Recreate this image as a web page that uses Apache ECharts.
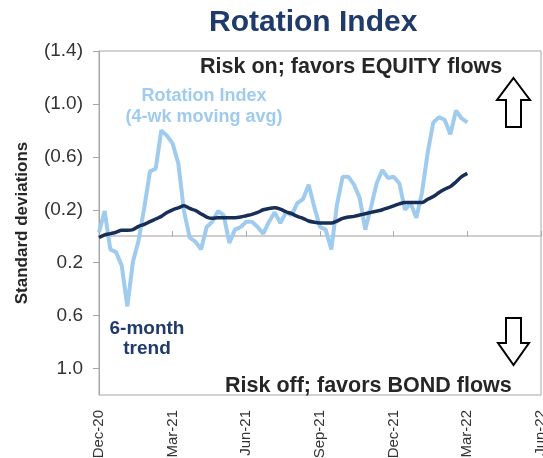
<!DOCTYPE html>
<html>
<head>
<meta charset="utf-8">
<script src="https://cdn.jsdelivr.net/npm/echarts@6/dist/echarts.min.js"></script>
<style>
  html, body { margin: 0; padding: 0; background: #fff; }
  #chart { width: 543px; height: 458px; }
</style>
</head>
<body>
<div id="chart"></div>
<script>
// tick labels (one per quarter, 13 weeks apart)
let xTicks = ['Dec-20', 'Mar-21', 'Jun-21', 'Sep-21', 'Dec-21', 'Mar-22', 'Jun-22'];

// Rotation Index, 4-wk moving avg (weekly, negative = risk on)
let rotation = [
  -0.03, -0.19, 0.10, 0.12, 0.22, 0.53, 0.19, 0.03, -0.22, -0.49,
  -0.51, -0.80, -0.76, -0.70, -0.55, -0.19, 0.01, 0.04, 0.10, -0.07,
  -0.11, -0.19, -0.16, 0.05, -0.05, -0.07, -0.11, -0.11, -0.07, -0.02,
  -0.11, -0.18, -0.10, -0.18, -0.16, -0.25, -0.28, -0.39, -0.22, -0.07,
  -0.05, 0.10, -0.24, -0.45, -0.45, -0.39, -0.29, -0.05, -0.22, -0.40,
  -0.50, -0.44, -0.45, -0.40, -0.20, -0.25, -0.14, -0.33, -0.63, -0.86,
  -0.90, -0.88, -0.77, -0.95, -0.89, -0.86
];

// 6-month trend (weekly)
let trend = [
  0.01, -0.01, -0.02, -0.03, -0.045, -0.045, -0.05, -0.075, -0.09, -0.11,
  -0.13, -0.15, -0.18, -0.20, -0.215, -0.23, -0.21, -0.195, -0.17, -0.145,
  -0.135, -0.14, -0.14, -0.14, -0.14, -0.145, -0.155, -0.165, -0.18, -0.20,
  -0.21, -0.215, -0.205, -0.185, -0.17, -0.15, -0.135, -0.115, -0.105, -0.10,
  -0.10, -0.10, -0.115, -0.135, -0.145, -0.15, -0.16, -0.17, -0.18, -0.19,
  -0.20, -0.215, -0.23, -0.245, -0.255, -0.255, -0.255, -0.255, -0.28, -0.30,
  -0.33, -0.355, -0.375, -0.41, -0.45, -0.475
];

let font = "'Liberation Sans', Arial, sans-serif";
let lightBlue = '#9fcbef';
let navy = '#172f58';

let chart = echarts.init(document.getElementById('chart'));

let option = {
  animation: false,
  textStyle: { fontFamily: font },
  title: {
    text: 'Rotation Index',
    left: 204,
    top: 3,
    textStyle: { fontSize: 30, fontWeight: 'bold', color: '#1f3b6b', fontFamily: font }
  },
  grid: {
    left: 99,
    right: 2,
    top: 51,
    bottom: 63,
    outerBoundsMode: 'none',
    containLabel: false,
    show: true,
    borderColor: '#a6a6a6',
    borderWidth: 1
  },
  xAxis: [
    {
      // axis drawn on the zero line
      type: 'value',
      min: 0,
      max: 78,
      interval: 13,
      position: 'bottom',
      axisLine: { show: true, onZero: true, lineStyle: { color: '#bfbfbf', width: 1.5 } },
      axisTick: { show: true, inside: true, length: 5, lineStyle: { color: '#a6a6a6' } },
      axisLabel: { show: false },
      splitLine: { show: false }
    },
    {
      // labels along the bottom
      type: 'value',
      min: 0,
      max: 78,
      interval: 13,
      position: 'bottom',
      axisLine: { show: false, onZero: false },
      axisTick: { show: false },
      splitLine: { show: false },
      axisLabel: {
        rotate: 90,
        margin: 15,
        fontSize: 15,
        color: '#333',
        fontFamily: font,
        formatter: function (v) { return xTicks[Math.round(v / 13)]; }
      }
    }
  ],
  yAxis: {
    type: 'value',
    inverse: true,
    min: -1.4,
    max: 1.2,
    interval: 0.4,
    name: 'Standard deviations',
    nameLocation: 'middle',
    nameGap: 68,
    nameTextStyle: { fontSize: 17, fontWeight: 'bold', color: '#262626', fontFamily: font },
    axisLine: { show: true, lineStyle: { color: '#a6a6a6' } },
    axisTick: { show: true, length: 6, lineStyle: { color: '#a6a6a6' } },
    splitLine: { show: false },
    axisLabel: {
      margin: 16,
      fontSize: 19,
      color: '#333',
      fontFamily: font,
      showMaxLabel: false,
      formatter: function (v) {
        let s = Math.abs(v).toFixed(1);
        return v < 0 ? '(' + s + ')' : s;
      }
    }
  },
  series: [
    {
      name: 'Rotation Index',
      type: 'line',
      xAxisIndex: 0,
      data: rotation.map(function (v, i) { return [i, v]; }),
      symbol: 'none',
      lineStyle: { color: lightBlue, width: 4 },
      z: 2
    },
    {
      name: '6-month trend',
      type: 'line',
      xAxisIndex: 0,
      data: trend.map(function (v, i) { return [i, v]; }),
      symbol: 'none',
      smooth: 0.3,
      lineStyle: { color: navy, width: 3.5 },
      z: 3
    }
  ],
  graphic: [
    {
      type: 'text', left: 200, top: 56,
      style: { text: 'Risk on; favors EQUITY flows', fontSize: 21.5, fontWeight: 'bold', fill: '#262626', fontFamily: font }
    },
    {
      type: 'text', left: 225, top: 375,
      style: { text: 'Risk off; favors BOND flows', fontSize: 21.5, fontWeight: 'bold', fill: '#262626', fontFamily: font }
    },
    {
      type: 'text', x: 204, y: 86,
      style: { text: 'Rotation Index\n(4-wk moving avg)', fontSize: 18, fontWeight: 'bold', fill: lightBlue, align: 'center', lineHeight: 21, fontFamily: font }
    },
    {
      type: 'text', x: 147, y: 319,
      style: { text: '6-month\ntrend', fontSize: 19, fontWeight: 'bold', fill: '#1f3b6b', align: 'center', lineHeight: 20, fontFamily: font }
    },
    {
      type: 'polygon',
      shape: { points: [[513.5, 78], [530, 100], [521, 100], [521, 127], [506, 127], [506, 100], [497, 100]] },
      style: { fill: '#fff', stroke: '#000', lineWidth: 2 }
    },
    {
      type: 'polygon',
      shape: { points: [[506, 318], [521, 318], [521, 343], [529, 343], [513.5, 365], [498, 343], [506, 343]] },
      style: { fill: '#fff', stroke: '#000', lineWidth: 2 }
    }
  ]
};

chart.setOption(option);
</script>
</body>
</html>
